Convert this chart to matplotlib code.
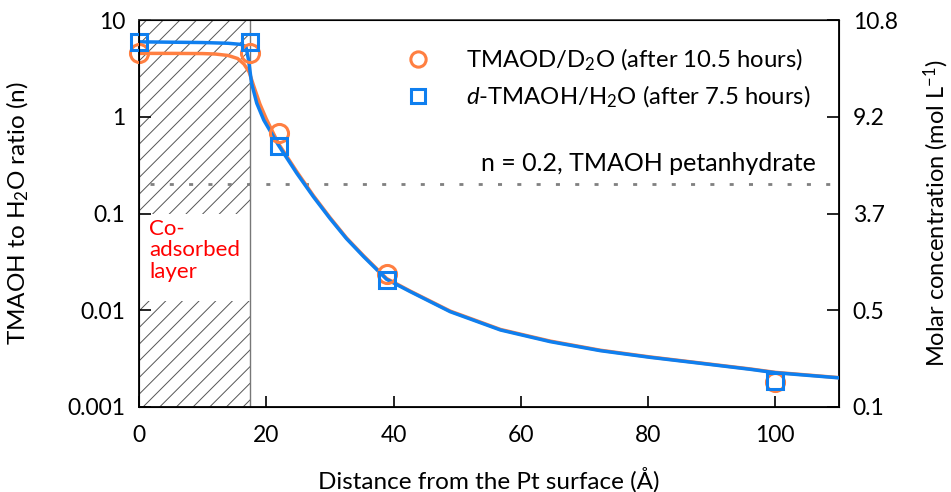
import matplotlib
matplotlib.use('Agg')
import matplotlib.pyplot as plt
from matplotlib.lines import Line2D

plt.rcParams['font.family'] = ['Lato', 'DejaVu Sans']
plt.rcParams['mathtext.fontset'] = 'custom'
plt.rcParams['mathtext.rm'] = 'Lato'
plt.rcParams['mathtext.it'] = 'Lato:italic'
plt.rcParams['hatch.color'] = '#555555'
plt.rcParams['hatch.linewidth'] = 0.7

# measured points
dist_d2o = [0, 17.5, 22, 39, 100]
n_d2o = [4.52, 4.52, 0.68, 0.0237, 0.0018]
dist_h2o = [0, 17.5, 22, 39, 100]
n_h2o = [5.97, 5.97, 0.50, 0.0205, 0.00187]

# fitted curves
fit_x_h2o = [0, 5, 10, 14, 16, 16.8, 17.2, 17.7, 18.5, 19.6, 21.9, 24.8, 27.4, 30.0,
             32.6, 35.3, 38.9, 42.6, 48.9, 56.8, 64.6, 72.5, 80.3, 88.2, 96.1, 100, 110]
fit_n_h2o = [5.95, 5.9, 5.85, 5.75, 5.6, 5.3, 3.9, 2.2, 1.38, 0.925, 0.51, 0.26, 0.149, 0.089,
             0.055, 0.0358, 0.0209, 0.0156, 0.00966, 0.00625, 0.00474, 0.00382, 0.00326,
             0.00283, 0.00245, 0.00226, 0.0020]
fit_x_d2o = [0, 5, 10, 12, 14, 15.5, 16.5, 17.3, 18.0, 19.0, 20.0, 21.9, 24.8, 27.4, 30.0,
             32.6, 35.3, 38.9, 42.6, 48.9, 56.8, 64.6, 72.5, 80.3, 88.2, 96.1, 100, 110]
fit_n_d2o = [4.52, 4.52, 4.5, 4.45, 4.3, 4.0, 3.5, 2.9, 2.1, 1.35, 0.95, 0.53, 0.27, 0.153, 0.091,
             0.056, 0.0365, 0.0213, 0.0158, 0.0098, 0.00633, 0.0048, 0.00386, 0.00329,
             0.00285, 0.00247, 0.00228, 0.00201]

layer_edge = 17.5
pentahydrate_n = 0.2

left_ticks = [10, 1, 0.1, 0.01, 0.001]
left_labels = ['10', '1', '0.1', '0.01', '0.001']
right_labels = ['10.8', '9.2', '3.7', '0.5', '0.1']

orange = '#FF7F41'
blue = '#0F7FEF'

fig = plt.figure(figsize=(9.51, 4.92), dpi=100)
ax = fig.add_axes([0.1462, 0.1728, 0.7360, 0.7865])

# co-adsorbed layer
ax.axvspan(0, layer_edge, facecolor='none', edgecolor='#555555', hatch='//', lw=0)
ax.axvspan(0, layer_edge, ymin=0.275, ymax=0.50, facecolor='white', edgecolor='none', zorder=1)
ax.axvline(layer_edge, color='#777777', lw=1.0)

ax.axhline(pentahydrate_n, xmin=0.015, color='#808080', lw=2.0, linestyle=(0, (1.45, 5.5)))

ax.plot(fit_x_d2o, fit_n_d2o, color=orange, lw=2.5, zorder=3)
ax.plot(fit_x_h2o, fit_n_h2o, color=blue, lw=2.5, zorder=4)

ax.plot(dist_d2o, n_d2o, 'o', ms=13, mfc='none', mec=orange, mew=2.2, zorder=5, clip_on=False)
ax.plot(dist_h2o, n_h2o, 's', ms=11.5, mfc='none', mec=blue, mew=2.2, zorder=6, clip_on=False)

ax.set_yscale('log')
ax.set_xlim(0, 110)
ax.set_ylim(0.001, 10)
ax.set_yticks(left_ticks)
ax.set_yticklabels(left_labels)
ax.minorticks_off()
ax.set_xticks([0, 20, 40, 60, 80, 100])
ax.set_xticks([10, 30, 50, 70, 90], minor=True)
ax.tick_params(axis='x', which='major', direction='in', length=8, width=1.2, pad=13, labelsize=16.5)
ax.tick_params(axis='x', which='minor', direction='in', length=5, width=1.2)
ax.tick_params(axis='y', which='major', direction='in', length=8.5, width=1.2, pad=10,
               labelsize=16.5, right=True)
for s in ax.spines.values():
    s.set_linewidth(1.3)
ax.spines['top'].set_color('#444444')

ax2 = ax.twinx()
ax2.set_yscale('log')
ax2.set_ylim(0.001, 10)
ax2.set_yticks(left_ticks)
ax2.set_yticklabels(right_labels)
ax2.minorticks_off()
ax2.tick_params(axis='y', direction='in', length=8.5, width=1.2, pad=10, labelsize=16.5)
ax2.set_ylabel('Molar concentration (mol L$^{-1}$)', fontsize=17)
ax2.yaxis.set_label_coords(1.118, 0.5)

ax.set_xlabel('Distance from the Pt surface (Å)', fontsize=17.5)
ax.xaxis.set_label_coords(0.5, -0.155)
ax.set_ylabel('TMAOH to H$_2$O ratio (n)', fontsize=17.5)
ax.yaxis.set_label_coords(-0.155, 0.5)

ax.text(1.6, 0.088, 'Co-\nadsorbed\nlayer', color='red', fontsize=16, va='top', ha='left',
        linespacing=1.1, zorder=7)

ax.text(106.3, 0.25, 'n = 0.2, TMAOH petanhydrate', fontsize=18, ha='right', va='bottom')

handles = [Line2D([], [], marker='o', ls='none', ms=11, mfc='none', mec=orange, mew=2.2),
           Line2D([], [], marker='s', ls='none', ms=10, mfc='none', mec=blue, mew=2.2)]
labels = ['TMAOD/D$_2$O (after 10.5 hours)', '$d$-TMAOH/H$_2$O (after 7.5 hours)']
ax.legend(handles, labels, loc='upper left', bbox_to_anchor=(0.351, 0.955), frameon=False,
          fontsize=17.2, handletextpad=1.0, labelspacing=0.45, borderaxespad=0)

fig.savefig('out.png', dpi=100)
